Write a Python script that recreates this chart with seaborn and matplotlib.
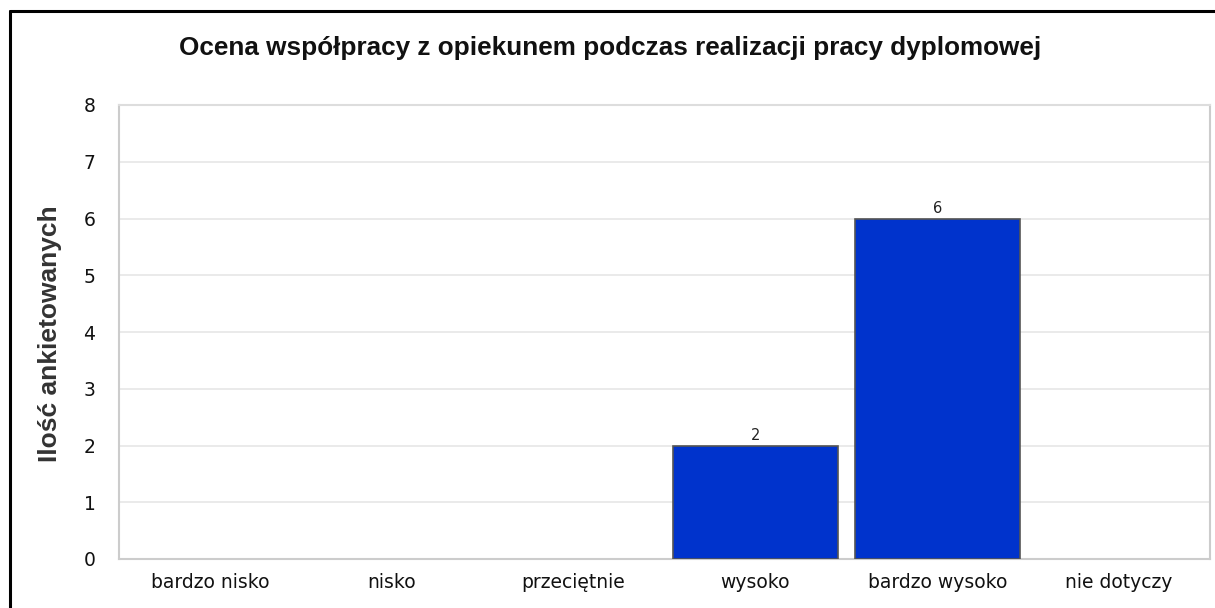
import matplotlib
matplotlib.use("Agg")
import matplotlib.pyplot as plt
import seaborn as sns
import pandas as pd
from matplotlib.lines import Line2D

# Data
categories = ["bardzo nisko", "nisko", "przeciętnie", "wysoko", "bardzo wysoko", "nie dotyczy"]
counts = [0, 0, 0, 2, 6, 0]
title = "Ocena współpracy z opiekunem podczas realizacji pracy dyplomowej"
ylabel = "Ilość ankietowanych"

df = pd.DataFrame({"ocena": categories, "ilosc": counts})

sns.set_style("white")
plt.rcParams['font.family'] = ['DejaVu Sans']

fig = plt.figure(figsize=(12.15, 6.08), dpi=100)
ax = fig.add_axes([119 / 1215, 1 - 559 / 608, (1210 - 119) / 1215, (559 - 105) / 608])

sns.barplot(data=df, x="ocena", y="ilosc", color="#0033cc", saturation=1,
            width=0.91, edgecolor="#555555", linewidth=1.2, ax=ax, zorder=3)

# hide outlines of empty bars, label the others
for bar, v in zip(ax.patches, counts):
    if v == 0:
        bar.set_visible(False)
for i, v in enumerate(counts):
    if v > 0:
        ax.text(i, v + 0.04, str(v), ha="center", va="bottom", fontsize=10.5,
                color="#222222", family="DejaVu Sans", zorder=4)

ax.set_ylim(0, 8)
ax.set_xlim(-0.5, len(categories) - 0.5)
ax.set_yticks(range(0, 9))
ax.yaxis.grid(True, color="#e6e6e6", linewidth=1.2, zorder=0)
ax.set_axisbelow(True)

# ticks at category boundaries, labels at centres
ax.set_xticks(range(len(categories)))
ax.set_xticklabels(categories)
ax.set_xticks([i - 0.5 for i in range(len(categories) + 1)], minor=True)
ax.tick_params(axis="x", which="major", length=0, pad=10)
ax.tick_params(axis="x", which="minor", length=8, color="#cccccc", width=1.5)
ax.tick_params(axis="y", length=0, pad=17)
for lab in ax.get_xticklabels() + ax.get_yticklabels():
    lab.set_family("DejaVu Sans")
    lab.set_fontsize(13.5)
    lab.set_color("#111111")

for side in ["left", "right", "bottom", "top"]:
    ax.spines[side].set_visible(True)
    ax.spines[side].set_color("#cccccc")
    ax.spines[side].set_linewidth(1.5)
ax.spines["top"].set_color("#dddddd")

ax.set_xlabel("")
ax.set_ylabel("")
fig.text(50 / 1215, 1 - 334 / 608, ylabel, rotation=90, ha="center", va="center",
         fontsize=19, fontweight="bold", color="#333333", family="Liberation Sans")
fig.text(610 / 1215, 1 - 48 / 608, title, ha="center", va="center",
         fontsize=18.8, fontweight="bold", color="#111111", family="Liberation Sans")

# black outer frame (left and top edges visible)
fig.add_artist(Line2D([10.5 / 1215, 10.5 / 1215], [0, 1 - 11 / 608], color="black",
                      linewidth=2.2, transform=fig.transFigure))
fig.add_artist(Line2D([10.5 / 1215, 1], [1 - 11 / 608, 1 - 11 / 608], color="black",
                      linewidth=2.2, transform=fig.transFigure))

fig.savefig("out.png", dpi=100)
